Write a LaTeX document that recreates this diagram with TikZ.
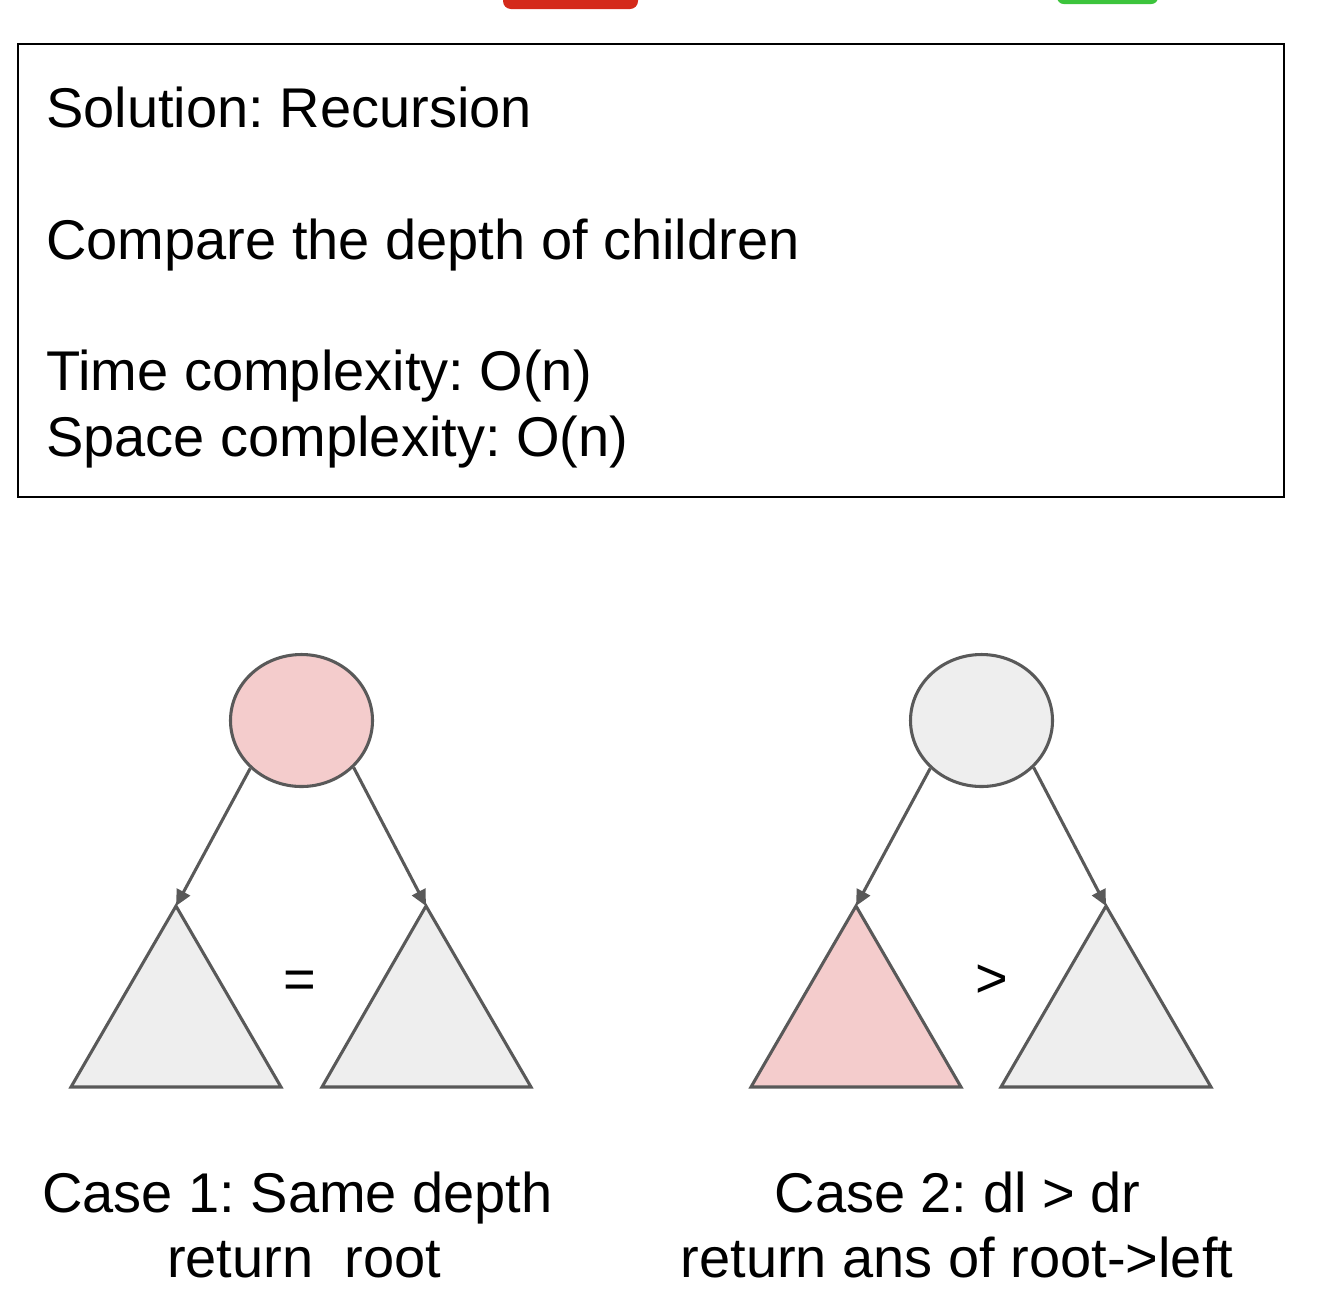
\documentclass[tikz,border=0pt]{standalone}
\usepackage{fontspec}
\setmainfont{Liberation Sans}
\usetikzlibrary{arrows.meta,shapes.geometric}
\definecolor{pinkfill}{HTML}{F4CCCC}
\definecolor{grayfill}{HTML}{EEEEEE}
\definecolor{edgegray}{HTML}{595959}
\definecolor{logored}{HTML}{D42A1A}
\definecolor{logogreen}{HTML}{3CC43C}
\tikzset{
  bigtext/.style={font=\fontsize{42}{50}\selectfont, inner sep=0pt, text=black},
  rootnode/.style={ellipse, draw=edgegray, line width=2.3pt, minimum width=106.5pt, minimum height=99pt, inner sep=0pt},
  subtree/.style={draw=edgegray, line width=2.3pt, line join=miter},
  childarrow/.style={draw=edgegray, line width=2.3pt, -{Triangle[length=12pt,width=11pt]}},
}
\begin{document}
\frenchspacing
\begin{tikzpicture}[x=0.75pt,y=-0.75pt]
\useasboundingbox (0,0) rectangle (1330,1304);
% partial logos at top edge
\fill[logored, rounded corners=6pt] (503,-30) rectangle (638,9);
\fill[logogreen, rounded corners=5pt] (1057,-30) rectangle (1158,4);
% header box
\draw[black, line width=1.6pt] (18,44) rectangle (1284,497);
\node[bigtext, anchor=base west] (t1) at (46,127) {Solution: Recursion};
\node[bigtext, anchor=base west] (t2) at (46,259) {Compare the depth of children};
\node[bigtext, anchor=base west] (t3) at (46,390) {Time complexity: O(n)};
\node[bigtext, anchor=base west] (t4) at (46,456) {Space complexity: O(n)};
% case 1
\node[rootnode, fill=pinkfill] (r1) at (301.5,720.5) {};
\coordinate (a1) at (176,906);
\coordinate (b1) at (426,906);
\draw[subtree, fill=grayfill] (a1) -- (281,1087) -- (71,1087) -- cycle;
\draw[subtree, fill=grayfill] (b1) -- (531,1087) -- (322,1087) -- cycle;
\draw[childarrow] (r1.223) -- (a1);
\draw[childarrow] (r1.318) -- (b1);
\node[bigtext, anchor=base] (eq) at (300,998) {=};
\node[bigtext, anchor=base] (c1a) at (297.5,1212) {Case 1: Same depth};
\node[bigtext, anchor=base] (c1b) at (304,1277) {return\ \ root};
% case 2
\node[rootnode, fill=grayfill] (r2) at (981.5,720.5) {};
\coordinate (a2) at (856,906);
\coordinate (b2) at (1106,906);
\draw[subtree, fill=pinkfill] (a2) -- (961,1087) -- (751,1087) -- cycle;
\draw[subtree, fill=grayfill] (b2) -- (1211,1087) -- (1001,1087) -- cycle;
\draw[childarrow] (r2.223) -- (a2);
\draw[childarrow] (r2.318) -- (b2);
\node[bigtext, anchor=base] (gt) at (992,997) {>};
\node[bigtext, anchor=base] (c2a) at (957.5,1212) {Case 2: dl > dr};
\node[bigtext, anchor=base] (c2b) at (957,1277) {return ans of root->left};
\end{tikzpicture}
\end{document}
